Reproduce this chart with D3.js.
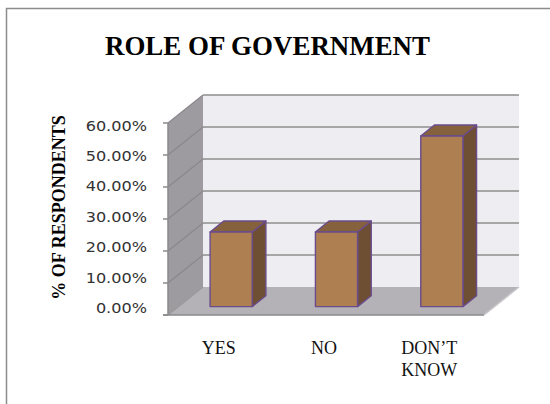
<!DOCTYPE html>
<html>
<head>
<meta charset="utf-8">
<script src="https://cdn.jsdelivr.net/npm/d3@7"></script>
<style>
  html, body { margin: 0; padding: 0; background: #fff; }
  svg { display: block; }
  .serif { font-family: "Liberation Serif", "DejaVu Serif", "Times New Roman", serif; }
  .sans { font-family: "DejaVu Sans", Verdana, sans-serif; }
</style>
</head>
<body>
<svg id="chart" width="550" height="404"></svg>
<script>
// Survey results: share of respondents per answer
const categories = ["YES", "NO", "DON\u2019T KNOW"];
const shares = [0.2333, 0.2333, 0.5333];
const tickValues = [0, 0.1, 0.2, 0.3, 0.4, 0.5, 0.6];
const titleText = "ROLE OF GOVERNMENT";
const yTitleText = "% OF RESPONDENTS";

const svg = d3.select("#chart");

// Frame around the chart area
svg.append("rect")
  .attr("x", 6.5).attr("y", 8.5)
  .attr("width", 600).attr("height", 500)
  .attr("fill", "#fff")
  .attr("stroke", "#8c8c8c").attr("stroke-width", 1.5);

// Front plane scales plus a fixed oblique depth offset
const x = d3.scaleBand().domain(categories).range([168, 484]).paddingInner(0).paddingOuter(0);
const y = d3.scaleLinear().domain([0, 0.6]).range([315, 123]);
const DX = 35, DY = -28;
const pt = (px, py, t) => [px + DX * t, py + DY * t];
const poly = pts => "M" + pts.map(p => p.join(",")).join("L") + "Z";

const x0 = x.range()[0], x1 = x.range()[1];
const yMin = y(0), yMax = y(0.6);

// Back wall
svg.append("path")
  .attr("d", poly([pt(x0, yMin, 1), pt(x1, yMin, 1), pt(x1, yMax, 1), pt(x0, yMax, 1)]))
  .attr("fill", "#eeedf2");

// Side wall
svg.append("path")
  .attr("d", poly([pt(x0, yMin, 0), pt(x0, yMin, 1), pt(x0, yMax, 1), pt(x0, yMax, 0)]))
  .attr("fill", "#9d9ba0");

// Floor
svg.append("path")
  .attr("d", poly([pt(x0, yMin, 0), pt(x1, yMin, 0), pt(x1, yMin, 1), pt(x0, yMin, 1)]))
  .attr("fill", "#b4b2b7");

// Gridlines on the back wall and the side wall
const grid = svg.append("g").attr("stroke", "#8e8e8e").attr("stroke-width", 1.5).attr("fill", "none");
tickValues.forEach(v => {
  if (v > 0) {
    const a = pt(x0, y(v), 1), b = pt(x1, y(v), 1);
    grid.append("line").attr("x1", a[0]).attr("y1", a[1]).attr("x2", b[0]).attr("y2", b[1]);
  }
  const c = pt(x0, y(v), 0), d = pt(x0, y(v), 1);
  grid.append("line").attr("x1", c[0]).attr("y1", c[1]).attr("x2", d[0]).attr("y2", d[1])
    .attr("stroke", v === 0 ? "#999" : "#8a888c").attr("stroke-width", 1.2);
});

// Floor front edge and axis line with ticks
const axis = svg.append("g").attr("stroke", "#8a8a8a").attr("stroke-width", 1.5);
axis.append("line").attr("x1", x0 - 5).attr("y1", yMin).attr("x2", x1).attr("y2", yMin);
axis.append("line").attr("x1", x0).attr("y1", yMin).attr("x2", x0).attr("y2", yMax);
tickValues.forEach(v => {
  axis.append("line").attr("x1", x0 - 5).attr("y1", y(v)).attr("x2", x0).attr("y2", y(v));
});
// Right floor edge
{
  const a = pt(x1, yMin, 0), b = pt(x1, yMin, 1);
  svg.append("line").attr("x1", a[0]).attr("y1", a[1]).attr("x2", b[0]).attr("y2", b[1])
    .attr("stroke", "#c8c7cb").attr("stroke-width", 1.5);
}

// 3D bars
const t0 = 0.3, t1 = 0.69, barFrac = 0.4;
const bars = svg.append("g")
  .attr("stroke", "#6a4c8c").attr("stroke-width", 1.4).attr("stroke-linejoin", "round");
categories.forEach((c, i) => {
  const bw = x.bandwidth() * barFrac;
  const bx = x(c) + (x.bandwidth() - bw) / 2;
  const yt = y(shares[i]), yb = y(0);
  const f = [pt(bx, yb, t0), pt(bx + bw, yb, t0), pt(bx + bw, yt, t0), pt(bx, yt, t0)];
  const side = [pt(bx + bw, yb, t0), pt(bx + bw, yb, t1), pt(bx + bw, yt, t1), pt(bx + bw, yt, t0)];
  const top = [pt(bx, yt, t0), pt(bx + bw, yt, t0), pt(bx + bw, yt, t1), pt(bx, yt, t1)];
  bars.append("path").attr("d", poly(side)).attr("fill", "#6e4f33");
  bars.append("path").attr("d", poly(top)).attr("fill", "#86613d");
  bars.append("path").attr("d", poly(f)).attr("fill", "#ad7f51");
});

// Y tick labels
const yLabel = d3.scaleLinear().domain([0, 0.6]).range([313.3, 130.5]);
const fmt = d3.format(".2%");
const tickG = svg.append("g");
tickValues.forEach(v => {
  tickG.append("text")
    .attr("class", "sans")
    .attr("transform", `translate(147,${yLabel(v)}) scale(1.15,1)`)
    .attr("text-anchor", "end")
    .attr("font-size", 14)
    .attr("fill", "#333")
    .text(fmt(v));
});

// Category labels, wrapped on spaces for the long one
categories.forEach(c => {
  const words = c.split(" ");
  const t = svg.append("text")
    .attr("class", "serif")
    .attr("text-anchor", "middle")
    .attr("font-size", 18)
    .attr("fill", "#111");
  words.forEach((w, k) => {
    t.append("tspan")
      .attr("x", x(c) + x.bandwidth() / 2 - 2)
      .attr("y", 354 + k * 21.7)
      .text(w);
  });
});

// Titles
svg.append("text")
  .attr("class", "serif")
  .attr("x", 267.5).attr("y", 55)
  .attr("text-anchor", "middle")
  .attr("font-weight", "bold")
  .attr("font-size", 28)
  .attr("textLength", 325)
  .attr("lengthAdjust", "spacingAndGlyphs")
  .text(titleText);

svg.append("text")
  .attr("class", "serif")
  .attr("transform", "translate(65,207.5) rotate(-90)")
  .attr("text-anchor", "middle")
  .attr("font-weight", "bold")
  .attr("font-size", 18)
  .text(yTitleText);
</script>
</body>
</html>
